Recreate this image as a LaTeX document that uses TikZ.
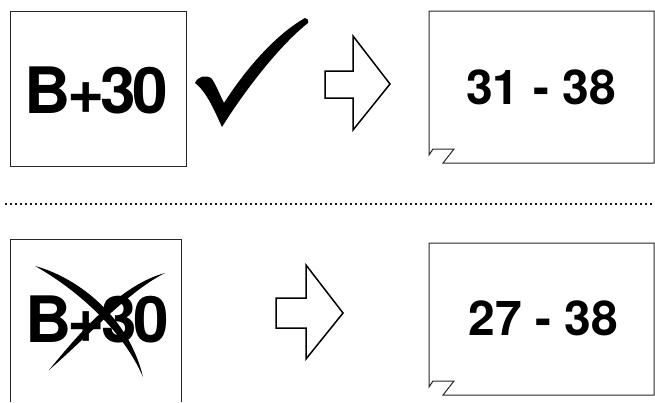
\documentclass[tikz,border=0pt]{standalone}
\usepackage{fontspec}
\setmainfont{TeX Gyre Heros}
\begin{document}
\begin{tikzpicture}[x=1pt,y=-1pt,
  boxline/.style={draw=black!85, line width=1pt},
  blockarrow/.style={draw=black, line width=1.5pt, line join=miter, fill=white},
  bigtxt/.style={inner sep=0pt, font=\fontsize{64}{64}\selectfont\bfseries\addfontfeatures{LetterSpace=-6}},
  numtxt/.style={inner sep=0pt, font=\fontsize{48}{48}\selectfont\bfseries},
  ink/.style={fill=black, draw=none},
  sep/.style={draw=black!90, line width=2.2pt, dash pattern=on 2.2pt off 2.8pt}]
\useasboundingbox (0,0) rectangle (655,402);

% top row
\draw[boxline] (10,11) rectangle (186,166);
\node[bigtxt] (t1) at (96.5,90) {B+30};
\fill[ink] (195,83) .. controls (198,76) and (207,74) .. (212,79)
  .. controls (216,85) and (220,95) .. (224,103)
  .. controls (245,70) and (275,35) .. (305,18)
  .. controls (307,18) and (309,20) .. (308,23)
  .. controls (280,45) and (245,90) .. (222,127)
  .. controls (215,112) and (207,92) .. (195,83) -- cycle;
\draw[blockarrow] (325,71) -- (353,71) -- (353,36) -- (390,84) -- (353,130) -- (353,98) -- (325,98) -- cycle;
\draw[boxline] (429,155) -- (433,149) -- (454,149) -- (443,163) -- (654,163) -- (654,11) -- (429,11) -- cycle;
\node[numtxt] (r1) at (541,87) {31 - 38};

% separator
\coordinate (sl) at (5,204);
\coordinate (sr) at (652,204);
\draw[sep] (sl) -- (sr);

% bottom row
\draw[boxline] (10,402) -- (10,239) -- (181,239) -- (181,402);
\node[bigtxt] (t2) at (97,319) {B+30};
\fill[ink] (35,266) .. controls (79,277.9) and (129,317.9) .. (143,377)
  .. controls (121,326.1) and (71,286.1) .. (35,266) -- cycle;
\fill[ink] (165,273) .. controls (122,284.5) and (83,328.5) .. (49,370)
  .. controls (89,335.5) and (128,291.5) .. (165,273) -- cycle;
\draw[blockarrow] (276,298) -- (306,298) -- (306,265) -- (343,313) -- (306,359) -- (306,328) -- (276,328) -- cycle;
\draw[boxline] (429,387) -- (433,381) -- (454,381) -- (443,395) -- (654,395) -- (654,243) -- (429,243) -- cycle;
\node[numtxt] (r2) at (543.5,318) {27 - 38};
\end{tikzpicture}
\end{document}
